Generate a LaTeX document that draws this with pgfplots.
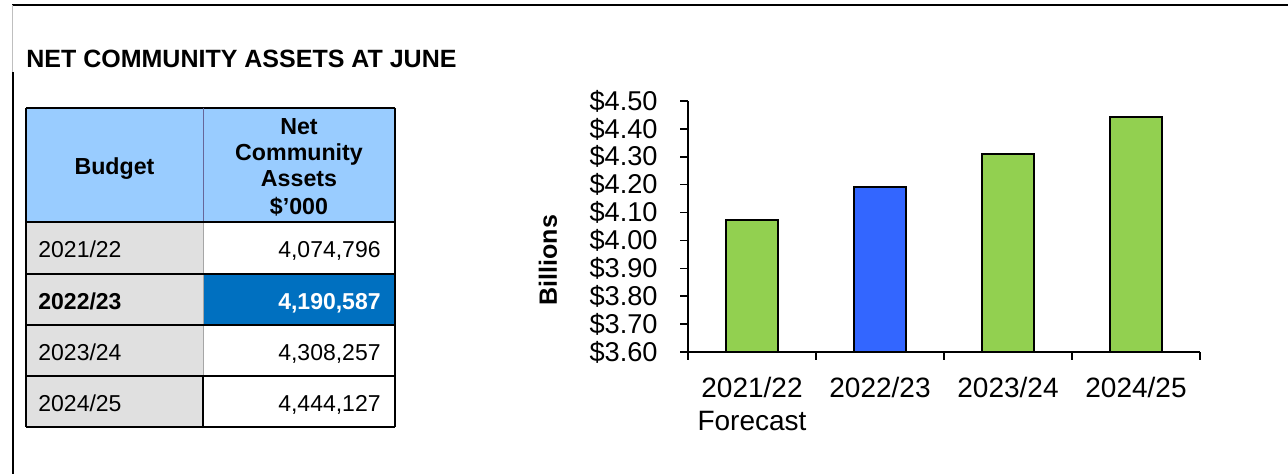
\documentclass[border=0pt]{standalone}
\usepackage{pgfplots}
\pgfplotsset{compat=1.18}
\usepackage{fontspec}
\setmainfont{Liberation Sans}
\definecolor{hdrblue}{HTML}{99CCFF}
\definecolor{cellgray}{HTML}{E0E0E0}
\definecolor{hiblue}{HTML}{0070C0}
\definecolor{bargreen}{HTML}{92D050}
\definecolor{barblue}{HTML}{3366FF}
\begin{document}
\begin{tikzpicture}
\useasboundingbox (0,0) rectangle (644pt,-237pt);
\begin{scope}[x=0.5pt,y=-0.5pt]
% frame
\draw[line width=1.4pt] (12,5) -- (1288,5);
\draw[gray!50, line width=0.4pt] (12,5) -- (12,72);
\draw[line width=1.4pt] (13,72) -- (13,474);
% title
\node[anchor=base west, font=\bfseries\fontsize{12.5}{14}\selectfont, inner sep=0] at (26,68) {NET COMMUNITY ASSETS AT JUNE};
% table fills
\fill[hdrblue] (26,108) rectangle (395,222);
\fill[cellgray] (26,222) rectangle (203,427);
\fill[hiblue] (203,274) rectangle (395,325);
% table lines
\draw[line width=0.6pt] (26,108) -- (395,108);
\draw[line width=0.6pt] (26,108) -- (26,427);
\draw[line width=0.6pt] (395,108) -- (395,427);
\draw[gray!80!blue, line width=0.5pt] (203,108) -- (203,222);
\draw[gray!70, line width=0.5pt] (203,222) -- (203,427);
\foreach \yy in {222,274,325,376,427} \draw[line width=0.6pt] (26,\yy) -- (395,\yy);
\draw[line width=1.1pt] (26,325) -- (203,325);
\draw[line width=1.1pt] (26,376) -- (203,376);
\draw[line width=1.1pt] (26,427) -- (203,427);
\draw[line width=1.1pt] (26,376) -- (26,427);
\draw[line width=1.1pt] (203,376) -- (203,427);
% header text
\begin{scope}[every node/.style={font=\bfseries\fontsize{11.6}{13}\selectfont, inner sep=0}]
\node[anchor=base] at (114.5,175) {Budget};
\node[anchor=base] at (299,135) {Net};
\node[anchor=base] at (299,161) {Community};
\node[anchor=base] at (299,187) {Assets};
\node[anchor=base] at (299,215) {\$’000};
\end{scope}
% body text
\begin{scope}[every node/.style={font=\fontsize{11.5}{13}\selectfont, inner sep=0}]
\node[anchor=base west] at (38,258) {2021/22};
\node[anchor=base west, font=\bfseries\fontsize{11.5}{13}\selectfont] at (38,310) {2022/23};
\node[anchor=base west] at (38,361) {2023/24};
\node[anchor=base west] at (38,412) {2024/25};
\node[anchor=base east] at (381,258) {4,074,796};
\node[anchor=base east, text=white, font=\bfseries\fontsize{11.5}{13}\selectfont] at (381,310) {4,190,587};
\node[anchor=base east] at (381,361) {4,308,257};
\node[anchor=base east] at (381,412) {4,444,127};
\end{scope}
% y label
\node[rotate=90, font=\bfseries\fontsize{12.5}{14}\selectfont, inner sep=0] at (548,260) {Billions};
\end{scope}
\begin{axis}[
  at={(344pt,-176pt)}, anchor=south west,
  scale only axis, width=256pt, height=125.5pt,
  xmin=0.5, xmax=4.5, ymin=3.6, ymax=4.5,
  axis lines=left,
  axis line style={-, line width=0.9pt},
  tick style={line width=0.8pt, black},
  tick align=outside,
  major tick length=4pt,
  ytick={3.6,3.7,3.8,3.9,4.0,4.1,4.2,4.3,4.4,4.5},
  yticklabels={\$3.60,\$3.70,\$3.80,\$3.90,\$4.00,\$4.10,\$4.20,\$4.30,\$4.40,\$4.50},
  yticklabel style={font=\fontsize{13.6}{14}\selectfont, inner sep=0pt, xshift=-11pt},
  xtick={1,2,3,4},
  xticklabels={{2021/22\\Forecast},2022/23,2023/24,2024/25},
  xticklabel style={font=\fontsize{14}{16.5}\selectfont, align=center, inner sep=0pt, yshift=-8.5pt},
  major x tick style={draw=none},
  minor xtick={0.5,1.5,2.5,3.5,4.5},
  minor tick length=4pt,
  ybar, bar width=26pt, bar shift=0pt,
  clip=true,
]
\addplot[fill=bargreen, draw=black, line width=1pt] coordinates {(1,4.074796) (3,4.308257) (4,4.444127)};
\addplot[fill=barblue, draw=black, line width=1pt] coordinates {(2,4.190587)};
\end{axis}
\end{tikzpicture}
\end{document}
